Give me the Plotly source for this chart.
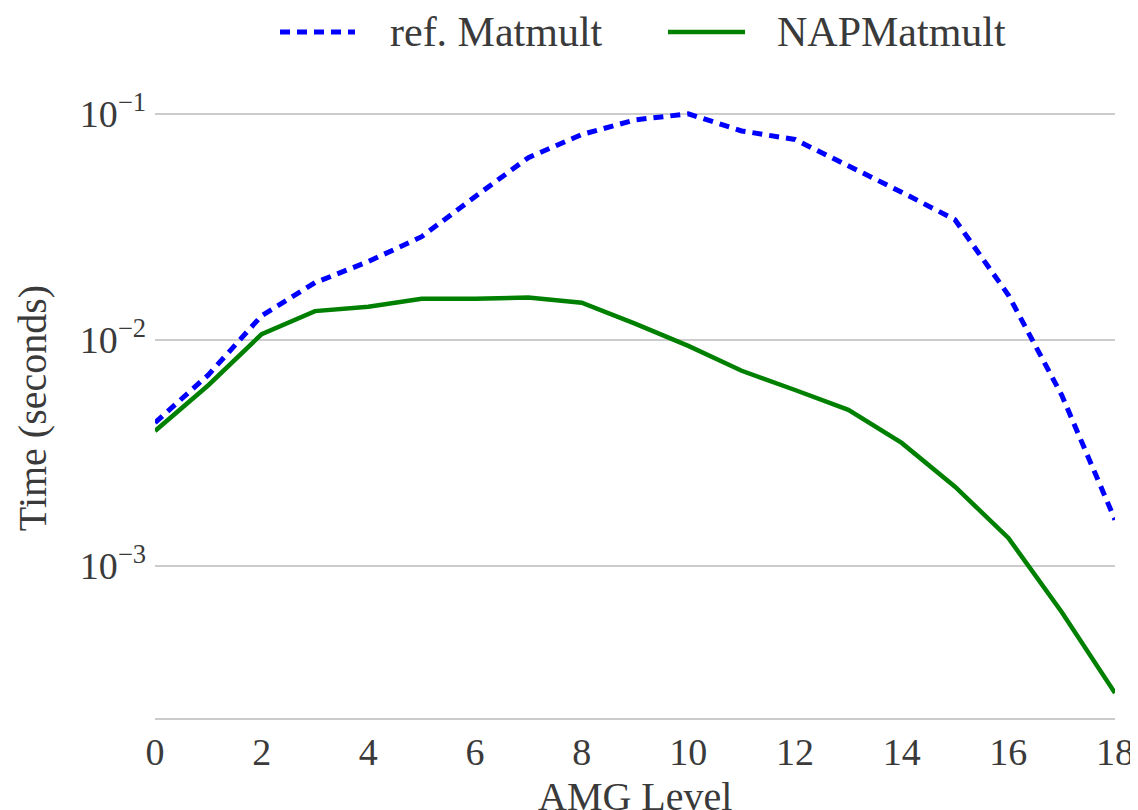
import plotly.graph_objects as go

amg_level = list(range(19))
ref_matmult = [0.0043, 0.0070, 0.0128, 0.0179, 0.0222, 0.0286, 0.043, 0.064, 0.081, 0.094,
               0.100, 0.084, 0.077, 0.059, 0.045, 0.034, 0.0158, 0.0057, 0.0016]
nap_matmult = [0.00395, 0.0063, 0.0106, 0.0134, 0.0140, 0.0152, 0.0152, 0.0154, 0.0146, 0.0118,
               0.0094, 0.0073, 0.0060, 0.0049, 0.0035, 0.00224, 0.00133, 0.000625, 0.000274]
series_names = ["ref. Matmult", "NAPMatmult"]
y_tick_vals = [1e-3, 1e-2, 1e-1]
y_tick_text = ["10<sup>−3</sup>", "10<sup>−2</sup>", "10<sup>−1</sup>"]
x_tick_vals = [0, 2, 4, 6, 8, 10, 12, 14, 16, 18]

FONT = "'Liberation Serif', 'DejaVu Serif', serif"
TXT = "#3a3a3a"
BLUE = "#0000ff"
GREEN = "#008000"
DASH = "10px,7px"

# page body has an 8px margin: figure is sized/offset to land on the reference pixels
OFF = 8
W, H = 1138 - OFF, 810 - OFF
L, T = 155 - OFF, 98 - OFF
R = (OFF + W) - 1115
B = (OFF + H) - 718
PW, PH = W - L - R, H - T - B


def px_x(p):
    return (p - OFF - L) / PW


def px_y(p):
    return (H - B - (p - OFF)) / PH


fig = go.Figure()
fig.add_trace(go.Scatter(x=amg_level, y=ref_matmult, mode="lines", name=series_names[0],
                         line=dict(color=BLUE, width=5, dash=DASH), showlegend=False))
fig.add_trace(go.Scatter(x=amg_level, y=nap_matmult, mode="lines", name=series_names[1],
                         line=dict(color=GREEN, width=4.5), showlegend=False))

# legend drawn by hand (longer line samples, as in the reference)
legend_items = [
    (series_names[0], BLUE, DASH, 5, 280, 355, 388),
    (series_names[1], GREEN, "solid", 4.5, 668, 745, 775),
]
for name, col, dash, lw, x0, x1, xt in legend_items:
    fig.add_shape(type="line", xref="paper", yref="paper",
                  x0=px_x(x0), x1=px_x(x1), y0=px_y(32), y1=px_y(32),
                  line=dict(color=col, width=lw, dash=dash))
    fig.add_annotation(xref="paper", yref="paper", x=px_x(xt), y=px_y(32),
                       xanchor="left", yanchor="middle", text=name, showarrow=False,
                       font=dict(family=FONT, size=42, color=TXT))

# x-axis title placed as in the reference
fig.add_annotation(xref="paper", yref="paper", x=0.5, y=px_y(772), xanchor="center",
                   yanchor="top", text="AMG Level", showarrow=False,
                   font=dict(family=FONT, size=40, color=TXT))

fig.update_layout(
    width=W, height=H,
    margin=dict(l=L, r=R, t=T, b=B),
    plot_bgcolor="white", paper_bgcolor="white",
    font=dict(family=FONT, size=38, color=TXT),
    showlegend=False,
)
fig.update_xaxes(
    range=[0, 18], tickvals=x_tick_vals, showgrid=False, zeroline=False,
    showline=True, linecolor="#cccccc", linewidth=1.5, ticks="", automargin=False,
    tickfont=dict(family=FONT, size=38, color=TXT),
)
fig.update_yaxes(
    type="log", range=[-3.673, -0.93], tickvals=y_tick_vals, ticktext=y_tick_text,
    showgrid=True, gridcolor="#cccccc", gridwidth=1.5, zeroline=False, showline=False,
    ticks="", automargin=False, tickfont=dict(family=FONT, size=38, color=TXT),
    ticklabelstandoff=8,
    title=dict(text="Time (seconds)", font=dict(family=FONT, size=40, color=TXT), standoff=20),
)

fig.write_html("out.html")
